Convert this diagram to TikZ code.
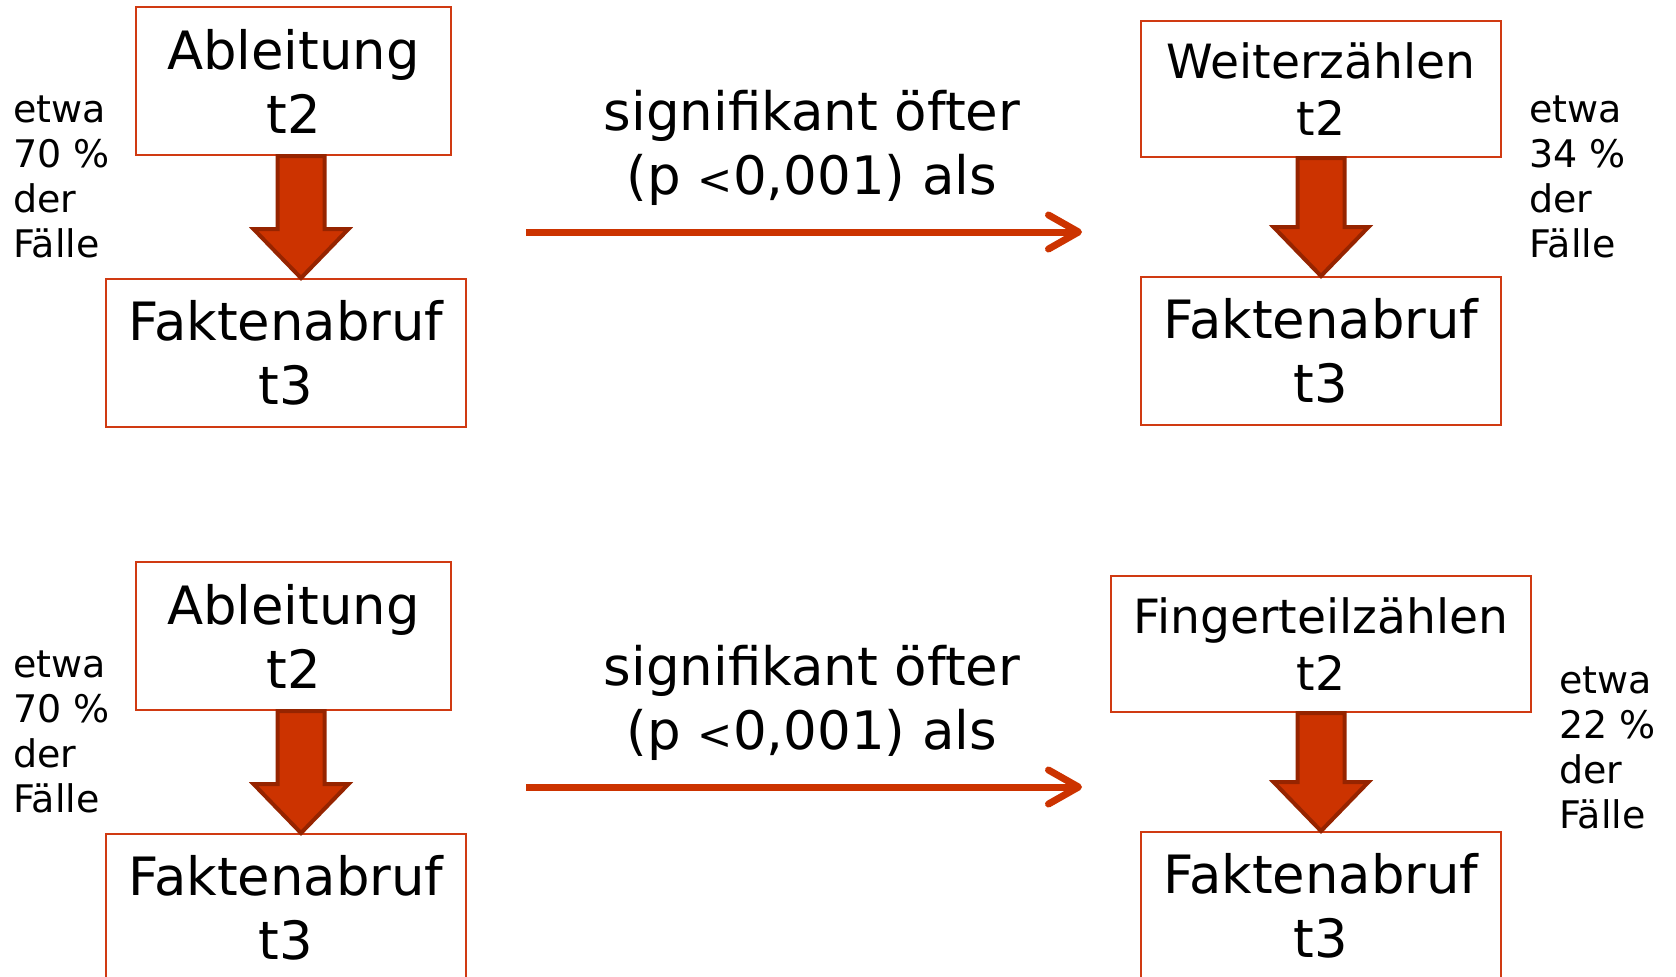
\documentclass[tikz,border=0pt]{standalone}
\usepackage{fontspec}
\setmainfont{DejaVu Sans}
\usetikzlibrary{calc,arrows.meta}
\definecolor{boxRed}{RGB}{208,58,18}
\definecolor{arrRed}{RGB}{204,51,0}
\definecolor{arrDark}{RGB}{150,36,0}

\begin{document}
\begin{tikzpicture}[x=0.5pt, y=-0.5pt,
    flowbox/.style={draw=boxRed, line width=1pt, inner sep=0pt, minimum height=74pt, align=center, font=\fontsize{26.4}{32}\selectfont},
    smallbox/.style={flowbox, minimum height=68pt, font=\fontsize{23.6}{28.5}\selectfont},
    share/.style={inner sep=0pt, align=left, font=\fontsize{19}{22.5}\selectfont},
    sigtext/.style={inner sep=0pt, align=center, font=\fontsize{26.5}{32}\selectfont},
    arr/.style={-{Straight Barb[length=15pt, width=17pt, round]}, line width=3.5pt, draw=arrRed},
    blockarr/.style={fill=arrRed, draw=arrDark, line width=2pt},
]
\clip (0,0) rectangle (1676,976);

% upper row
\node[flowbox, minimum width=157.5pt] (a1) at (293.5,81) {Ableitung\\t2};
\node[flowbox, minimum width=180pt] (f1) at (286,353) {Faktenabruf\\t3};
\node[smallbox, minimum width=180pt] (w1) at (1321,89) {Weiterzählen\\t2};
\node[flowbox, minimum width=180pt] (f2) at (1321,351) {Faktenabruf\\t3};
\node[share, anchor=west] (l1) at (13,177) {etwa\\70 \%\\der\\Fälle};
\node[share, anchor=west] (r1) at (1529,177) {etwa\\34 \%\\der\\Fälle};
\node[sigtext] (sig1) at (812,148) {signifikant öfter\\(p {\fontsize{21}{21}\selectfont<}0,001) als};
\coordinate (p1) at (526,232);
\coordinate (q1) at (1082,232);

% lower row
\node[flowbox, minimum width=157.5pt] (a2) at (293.5,636) {Ableitung\\t2};
\node[flowbox, minimum width=180pt] (f3) at (286,908) {Faktenabruf\\t3};
\node[smallbox, minimum width=210pt] (g2) at (1321,644) {Fingerteilzählen\\t2};
\node[flowbox, minimum width=180pt] (f4) at (1321,906) {Faktenabruf\\t3};
\node[share, anchor=west] (l2) at (13,732) {etwa\\70 \%\\der\\Fälle};
\node[share, anchor=west] (r2) at (1559,748) {etwa\\22 \%\\der\\Fälle};
\node[sigtext] (sig2) at (812,703) {signifikant öfter\\(p {\fontsize{21}{21}\selectfont<}0,001) als};
\coordinate (p2) at (526,787);
\coordinate (q2) at (1082,787);

\draw[arr] (p1) -- (q1);
\draw[arr] (p2) -- (q2);

\foreach \up/\dn/\cx in {a1/f1/301, w1/f2/1321, a2/f3/301, g2/f4/1321}
  \draw[blockarr] let \p1=(\up.south), \p2=(\dn.north) in
    (\cx-23.5,\y1) -- (\cx+23.5,\y1) -- (\cx+23.5,\y2+24.5pt) -- (\cx+47.5,\y2+24.5pt)
    -- (\cx,\y2) -- (\cx-47.5,\y2+24.5pt) -- (\cx-23.5,\y2+24.5pt) -- cycle;
\end{tikzpicture}
\end{document}
